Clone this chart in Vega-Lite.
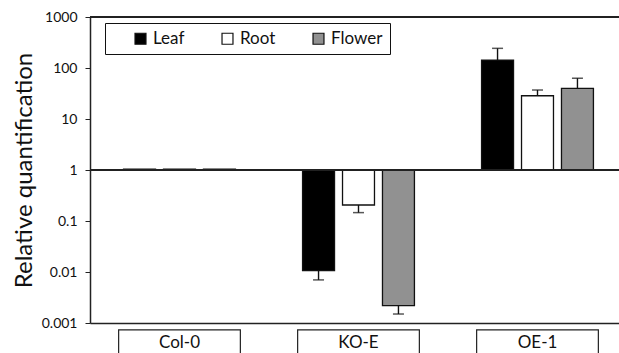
{
  "$schema": "https://vega.github.io/schema/vega-lite/v6.json",
  "width": 529,
  "height": 306,
  "autosize": {"type": "none"},
  "padding": {"left": 90, "top": 17, "right": 0, "bottom": 30},
  "background": "white",
  "config": {
    "font": "Lato",
    "view": {"stroke": null},
    "axis": {"labelFont": "Lato", "titleFont": "Lato"},
    "legend": {"labelFont": "Lato"}
  },
  "data": {
    "values": [
      {"genotype": "Col-0", "tissue": "Leaf", "value": 1.04, "err": null},
      {"genotype": "Col-0", "tissue": "Root", "value": 1.04, "err": null},
      {"genotype": "Col-0", "tissue": "Flower", "value": 1.04, "err": null},
      {"genotype": "KO-E", "tissue": "Leaf", "value": 0.0106, "err": 0.007},
      {"genotype": "KO-E", "tissue": "Root", "value": 0.206, "err": 0.146},
      {"genotype": "KO-E", "tissue": "Flower", "value": 0.0022, "err": 0.0015},
      {"genotype": "OE-1", "tissue": "Leaf", "value": 143, "err": 243},
      {"genotype": "OE-1", "tissue": "Root", "value": 28.6, "err": 37},
      {"genotype": "OE-1", "tissue": "Flower", "value": 40, "err": 63}
    ]
  },
  "layer": [
    {
      "mark": {"type": "bar", "width": {"band": 0.68}, "fill": "transparent", "stroke": "#222", "strokeWidth": 1.2},
      "transform": [{"filter": "datum.tissue === 'Leaf'"}],
      "encoding": {
        "x": {
          "field": "genotype",
          "type": "nominal",
          "sort": ["Col-0", "KO-E", "OE-1"],
          "scale": {"range": [0, 537], "paddingInner": 0, "paddingOuter": 0},
          "axis": {
            "title": null,
            "labelAngle": 0,
            "ticks": false,
            "zindex": 1,
            "domainColor": "#222",
            "domainWidth": 1.5,
            "labelFontSize": 17,
            "labelColor": "#111",
            "labelPadding": 11,
            "labelBaseline": "top"
          }
        },
        "y": {"datum": 0.00073, "type": "quantitative", "scale": {"type": "log"}},
        "y2": {"datum": 0.0002}
      }
    },
    {
      "mark": {"type": "rule", "color": "#222", "strokeWidth": 1.5},
      "encoding": {"y": {"datum": 1000, "type": "quantitative"}}
    },
    {
      "mark": {"type": "bar", "stroke": "#111", "strokeWidth": 1.3},
      "encoding": {
        "x": {"field": "genotype", "type": "nominal", "sort": ["Col-0", "KO-E", "OE-1"]},
        "xOffset": {
          "field": "tissue",
          "type": "nominal",
          "sort": ["Leaf", "Root", "Flower"],
          "scale": {"paddingInner": 0.2, "paddingOuter": 0.84}
        },
        "y": {
          "field": "value",
          "type": "quantitative",
          "scale": {"type": "log", "domain": [0.001, 1000]},
          "axis": {
            "title": "Relative quantification",
            "titleFontSize": 24,
            "titleFontWeight": "normal",
            "titleColor": "#111",
            "titleX": -54,
            "values": [0.001, 0.01, 0.1, 1, 10, 100, 1000],
            "format": "~g",
            "labelFontSize": 14,
            "labelColor": "#111",
            "labelPadding": 8,
            "tickSize": 5,
            "tickColor": "#222",
            "domainColor": "#222",
            "domainWidth": 1.5,
            "gridColor": "#c8c8c8",
            "gridWidth": 1.2
          }
        },
        "y2": {"datum": 1},
        "color": {
          "field": "tissue",
          "type": "nominal",
          "scale": {"domain": ["Leaf", "Root", "Flower"], "range": ["#000000", "#ffffff", "#919191"]},
          "legend": {
            "title": null,
            "orient": "none",
            "legendX": 15,
            "legendY": 6,
            "direction": "horizontal",
            "symbolType": "square",
            "symbolSize": 120,
            "symbolStrokeColor": "#111",
            "symbolStrokeWidth": 1.2,
            "symbolOffset": 20,
            "labelFontSize": 17,
            "labelColor": "#111",
            "labelOffset": 4,
            "columnPadding": 14,
            "padding": 7,
            "strokeColor": "#111",
            "fillColor": "white"
          }
        }
      }
    },
    {
      "mark": {"type": "rule", "color": "#222", "strokeWidth": 1.5},
      "encoding": {"y": {"datum": 1, "type": "quantitative"}}
    },
    {
      "transform": [{"filter": "datum.err != null"}],
      "mark": {"type": "rule", "color": "#111", "strokeWidth": 1.4},
      "encoding": {
        "x": {"field": "genotype", "type": "nominal", "sort": ["Col-0", "KO-E", "OE-1"]},
        "xOffset": {"field": "tissue", "type": "nominal", "sort": ["Leaf", "Root", "Flower"]},
        "y": {"field": "value", "type": "quantitative"},
        "y2": {"field": "err"}
      }
    },
    {
      "transform": [{"filter": "datum.err != null"}],
      "mark": {"type": "tick", "color": "#111", "thickness": 1.5, "size": 11, "orient": "horizontal"},
      "encoding": {
        "x": {"field": "genotype", "type": "nominal", "sort": ["Col-0", "KO-E", "OE-1"]},
        "xOffset": {"field": "tissue", "type": "nominal", "sort": ["Leaf", "Root", "Flower"]},
        "y": {"field": "err", "type": "quantitative"}
      }
    }
  ]
}
